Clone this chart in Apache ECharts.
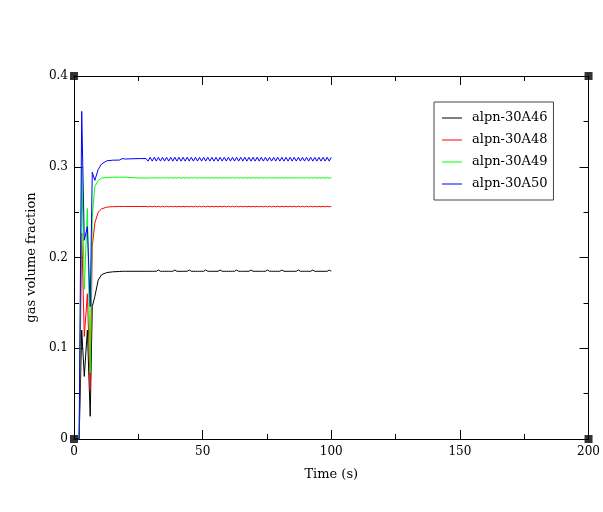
<!DOCTYPE html>
<html>
<head>
<meta charset="utf-8">
<script src="https://cdn.jsdelivr.net/npm/echarts@6/dist/echarts.min.js"></script>
<style>
  html, body { margin: 0; padding: 0; background: #fff; }
  #chart { width: 603px; height: 512px; }
</style>
</head>
<body>
<div id="chart"></div>
<script>
// time axis (s) - coarse start, then the sampled plateau
var times = [0, 2, 3, 4, 5.2, 6.3, 7.1, 8.1, 9.4, 10.7, 12.7, 15, 17.8, 18.7, 20, 22.5, 25.6, 28,
  28.8, 29.6, 30.4, 31.2, 32, 32.8, 33.6, 34.4, 35.2, 36,
  36.8, 37.6, 38.4, 39.2, 40, 40.8, 41.6, 42.4, 43.2, 44,
  44.8, 45.6, 46.4, 47.2, 48, 48.8, 49.6, 50.4, 51.2, 52,
  52.8, 53.6, 54.4, 55.2, 56, 56.8, 57.6, 58.4, 59.2, 60,
  60.8, 61.6, 62.4, 63.2, 64, 64.8, 65.6, 66.4, 67.2, 68,
  68.8, 69.6, 70.4, 71.2, 72, 72.8, 73.6, 74.4, 75.2, 76,
  76.8, 77.6, 78.4, 79.2, 80, 80.8, 81.6, 82.4, 83.2, 84,
  84.8, 85.6, 86.4, 87.2, 88, 88.8, 89.6, 90.4, 91.2, 92,
  92.8, 93.6, 94.4, 95.2, 96, 96.8, 97.6, 98.4, 99.2, 100];

var seriesNames = ['alpn-30A46', 'alpn-30A48', 'alpn-30A49', 'alpn-30A50'];
var seriesColors = ['#000000', '#ff0000', '#00ff00', '#0000ff'];

var a46 = [0, 0, 0.120, 0.069, 0.120, 0.025, 0.146, 0.157, 0.175, 0.181, 0.1834, 0.1842, 0.1846, 0.1848, 0.1848, 0.1848, 0.1848, 0.1848,
  0.1848, 0.1848, 0.1848, 0.1848, 0.1848, 0.1862, 0.1848, 0.1848, 0.1848, 0.1848,
  0.1848, 0.1848, 0.1848, 0.1862, 0.1848, 0.1848, 0.1848, 0.1848, 0.1848, 0.1848,
  0.1862, 0.1848, 0.1848, 0.1848, 0.1848, 0.1848, 0.1848, 0.1848, 0.1862, 0.1848,
  0.1848, 0.1848, 0.1848, 0.1848, 0.1848, 0.1862, 0.1848, 0.1848, 0.1848, 0.1848,
  0.1848, 0.1848, 0.1848, 0.1862, 0.1848, 0.1848, 0.1848, 0.1848, 0.1848, 0.1848,
  0.1862, 0.1848, 0.1848, 0.1848, 0.1848, 0.1848, 0.1848, 0.1848, 0.1862, 0.1848,
  0.1848, 0.1848, 0.1848, 0.1848, 0.1848, 0.1862, 0.1848, 0.1848, 0.1848, 0.1848,
  0.1848, 0.1848, 0.1848, 0.1862, 0.1848, 0.1848, 0.1848, 0.1848, 0.1848, 0.1848,
  0.1862, 0.1848, 0.1848, 0.1848, 0.1848, 0.1848, 0.1848, 0.1848, 0.1862, 0.1848];

var a48 = [0, 0, 0.227, 0.113, 0.160, 0.054, 0.212, 0.238, 0.250, 0.2535, 0.2555, 0.2560, 0.2562, 0.2562, 0.2562, 0.2562, 0.2562, 0.2562,
  0.2558, 0.2564, 0.2558, 0.2564, 0.2558, 0.2564, 0.2558, 0.2564, 0.2558, 0.2564,
  0.2558, 0.2564, 0.2558, 0.2564, 0.2558, 0.2564, 0.2558, 0.2564, 0.2558, 0.2564,
  0.2558, 0.2564, 0.2558, 0.2564, 0.2558, 0.2564, 0.2558, 0.2564, 0.2558, 0.2564,
  0.2558, 0.2564, 0.2558, 0.2564, 0.2558, 0.2564, 0.2558, 0.2564, 0.2558, 0.2564,
  0.2558, 0.2564, 0.2558, 0.2564, 0.2558, 0.2564, 0.2558, 0.2564, 0.2558, 0.2564,
  0.2558, 0.2564, 0.2558, 0.2564, 0.2558, 0.2564, 0.2558, 0.2564, 0.2558, 0.2564,
  0.2558, 0.2564, 0.2558, 0.2564, 0.2558, 0.2564, 0.2558, 0.2564, 0.2558, 0.2564,
  0.2558, 0.2564, 0.2558, 0.2564, 0.2558, 0.2564, 0.2558, 0.2564, 0.2558, 0.2564,
  0.2558, 0.2564, 0.2558, 0.2564, 0.2558, 0.2564, 0.2558, 0.2564, 0.2558, 0.2564];

var a49 = [0, 0, 0.300, 0.165, 0.254, 0.073, 0.245, 0.278, 0.285, 0.2875, 0.2882, 0.2884, 0.2885, 0.2885, 0.2885, 0.2880, 0.2876, 0.2876,
  0.2874, 0.2880, 0.2874, 0.2880, 0.2874, 0.2880, 0.2874, 0.2880, 0.2874, 0.2880,
  0.2874, 0.2880, 0.2874, 0.2880, 0.2874, 0.2880, 0.2874, 0.2880, 0.2874, 0.2880,
  0.2874, 0.2880, 0.2874, 0.2880, 0.2874, 0.2880, 0.2874, 0.2880, 0.2874, 0.2880,
  0.2874, 0.2880, 0.2874, 0.2880, 0.2874, 0.2880, 0.2874, 0.2880, 0.2874, 0.2880,
  0.2874, 0.2880, 0.2874, 0.2880, 0.2874, 0.2880, 0.2874, 0.2880, 0.2874, 0.2880,
  0.2874, 0.2880, 0.2874, 0.2880, 0.2874, 0.2880, 0.2874, 0.2880, 0.2874, 0.2880,
  0.2874, 0.2880, 0.2874, 0.2880, 0.2874, 0.2880, 0.2874, 0.2880, 0.2874, 0.2880,
  0.2874, 0.2880, 0.2874, 0.2880, 0.2874, 0.2880, 0.2874, 0.2880, 0.2874, 0.2880,
  0.2874, 0.2880, 0.2874, 0.2880, 0.2874, 0.2880, 0.2874, 0.2880, 0.2874, 0.2880];

var a50 = [0, 0, 0.361, 0.219, 0.234, 0.146, 0.294, 0.285, 0.297, 0.303, 0.3065, 0.3072, 0.3074, 0.3090, 0.3085, 0.3088, 0.3090, 0.3090,
  0.3062, 0.3104, 0.3062, 0.3104, 0.3062, 0.3104, 0.3062, 0.3104, 0.3062, 0.3104,
  0.3062, 0.3104, 0.3062, 0.3104, 0.3062, 0.3104, 0.3062, 0.3104, 0.3062, 0.3104,
  0.3062, 0.3104, 0.3062, 0.3104, 0.3062, 0.3104, 0.3062, 0.3104, 0.3062, 0.3104,
  0.3062, 0.3104, 0.3062, 0.3104, 0.3062, 0.3104, 0.3062, 0.3104, 0.3062, 0.3104,
  0.3062, 0.3104, 0.3062, 0.3104, 0.3062, 0.3104, 0.3062, 0.3104, 0.3062, 0.3104,
  0.3062, 0.3104, 0.3062, 0.3104, 0.3062, 0.3104, 0.3062, 0.3104, 0.3062, 0.3104,
  0.3062, 0.3104, 0.3062, 0.3104, 0.3062, 0.3104, 0.3062, 0.3104, 0.3062, 0.3104,
  0.3062, 0.3104, 0.3062, 0.3104, 0.3062, 0.3104, 0.3062, 0.3104, 0.3062, 0.3104,
  0.3062, 0.3104, 0.3062, 0.3104, 0.3062, 0.3104, 0.3062, 0.3104, 0.3062, 0.3104];

// corners of the frame (black squares)
var corners = [[0, 0], [200, 0], [0, 0.4], [200, 0.4]];

var font = 'DejaVu Serif';
var chart = echarts.init(document.getElementById('chart'));

function pairs(vals) {
  return times.map(function (t, i) { return [t, vals[i]]; });
}

var lineSeries = [a46, a48, a49, a50].map(function (vals, k) {
  return {
    name: seriesNames[k],
    type: 'line',
    data: pairs(vals),
    symbol: 'none',
    animation: false,
    lineStyle: { width: 1, color: seriesColors[k] },
    itemStyle: { color: seriesColors[k] },
    z: 3
  };
});

lineSeries.push({
  name: 'corners',
  type: 'scatter',
  data: corners,
  symbol: 'rect',
  symbolSize: 8,
  itemStyle: { color: '#000' },
  clip: false,
  silent: true,
  animation: false,
  z: 10
});

var lineCommon = { show: true, onZero: false, lineStyle: { color: '#000', width: 1 } };
var tickCommon = { inside: true, length: 9, lineStyle: { color: '#000', width: 1 } };
var minorCommon = { show: true, splitNumber: 2, length: 5, lineStyle: { color: '#000', width: 1 } };

option = {
  backgroundColor: '#fff',
  animation: false,
  grid: { left: 74, right: 13, top: 76, bottom: 73 },
  legend: {
    data: seriesNames.map(function (n) { return { name: n, icon: 'rect' }; }),
    orient: 'vertical',
    left: 434,
    top: 102,
    itemWidth: 20,
    itemHeight: 1,
    itemGap: 8,
    padding: [9, 6, 9, 8],
    borderColor: '#444',
    borderWidth: 1,
    backgroundColor: '#fff',
    textStyle: { fontFamily: font, fontSize: 13, lineHeight: 14, color: '#000', padding: [0, 0, 0, 5] }
  },
  xAxis: [{
    type: 'value',
    min: 0, max: 200, interval: 50,
    name: 'Time (s)',
    nameLocation: 'middle',
    nameGap: 29,
    nameTextStyle: { fontFamily: font, fontSize: 13, color: '#000' },
    axisLine: lineCommon,
    axisTick: tickCommon,
    minorTick: minorCommon,
    axisLabel: { fontFamily: font, fontSize: 12, color: '#000', margin: 7, showMaxLabel: true },
    splitLine: { show: false }
  }, {
    type: 'value',
    position: 'top',
    min: 0, max: 200, interval: 50,
    axisLine: lineCommon,
    axisTick: tickCommon,
    minorTick: minorCommon,
    axisLabel: { show: false },
    splitLine: { show: false }
  }],
  yAxis: [{
    type: 'value',
    min: 0, max: 0.4, interval: 0.1,
    name: 'gas volume fraction',
    nameLocation: 'middle',
    nameGap: 31,
    nameTextStyle: { fontFamily: font, fontSize: 13, color: '#000' },
    axisLine: lineCommon,
    axisTick: tickCommon,
    minorTick: minorCommon,
    axisLabel: { fontFamily: font, fontSize: 12, color: '#000', margin: 6 },
    splitLine: { show: false }
  }, {
    type: 'value',
    position: 'right',
    min: 0, max: 0.4, interval: 0.1,
    axisLine: lineCommon,
    axisTick: tickCommon,
    minorTick: minorCommon,
    axisLabel: { show: false },
    splitLine: { show: false }
  }],
  series: lineSeries
};

chart.setOption(option);
</script>
</body>
</html>
